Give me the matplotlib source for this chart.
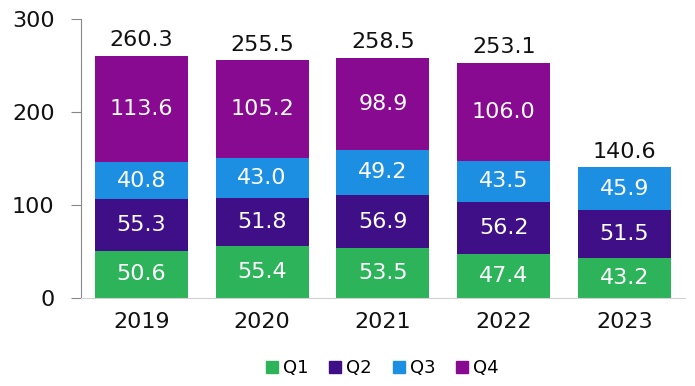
import matplotlib
matplotlib.use("Agg")
import matplotlib.pyplot as plt
import numpy as np
from matplotlib.lines import Line2D

years = ["2019", "2020", "2021", "2022", "2023"]
q1 = [50.6, 55.4, 53.5, 47.4, 43.2]
q2 = [55.3, 51.8, 56.9, 56.2, 51.5]
q3 = [40.8, 43.0, 49.2, 43.5, 45.9]
q4 = [113.6, 105.2, 98.9, 106.0, 0.0]
totals = [260.3, 255.5, 258.5, 253.1, 140.6]

series = [("Q1", q1, "#2db45a"), ("Q2", q2, "#3f0f87"),
          ("Q3", q3, "#1d8fe2"), ("Q4", q4, "#880a91")]

fig = plt.figure(figsize=(6.95, 3.86), dpi=100)
ax = fig.add_axes([0.1165, 0.228, 0.869, 0.723])

x = np.arange(len(years))
bottom = np.zeros(len(years))
for name, vals, color in series:
    vals = np.array(vals)
    ax.bar(x, vals, 0.77, bottom=bottom, color=color, label=name)
    for xi, b, v in zip(x, bottom, vals):
        if v > 0:
            ax.text(xi, b + v / 2, f"{v:.1f}", ha="center", va="center",
                    color="white", fontsize=16)
    bottom += vals

for xi, t in zip(x, totals):
    ax.text(xi, t + 6, f"{t:.1f}", ha="center", va="bottom", color="#111111", fontsize=16)

ax.set_xlim(-0.5, 4.5)
ax.set_ylim(0, 300)
ax.set_yticks([0, 100, 200, 300])
ax.set_xticks(x)
ax.set_xticklabels(years)
ax.tick_params(axis="y", length=7, color="#888888", labelsize=16, pad=12, labelcolor="#111111")
ax.tick_params(axis="x", length=0, labelsize=16, pad=10, labelcolor="#111111")
for s in ["top", "right"]:
    ax.spines[s].set_visible(False)
ax.spines["left"].set_color("#888888")
ax.spines["bottom"].set_color("#d0d0d0")

handles = [Line2D([], [], marker="s", linestyle="", color=c, markersize=8) for _, _, c in series]
fig.legend(handles, [n for n, _, _ in series], loc="center", bbox_to_anchor=(0.548, 0.047),
           ncol=4, frameon=False, fontsize=13, handletextpad=0.1, columnspacing=1.0,
           handlelength=1.0)

fig.savefig("out.png", dpi=100)
